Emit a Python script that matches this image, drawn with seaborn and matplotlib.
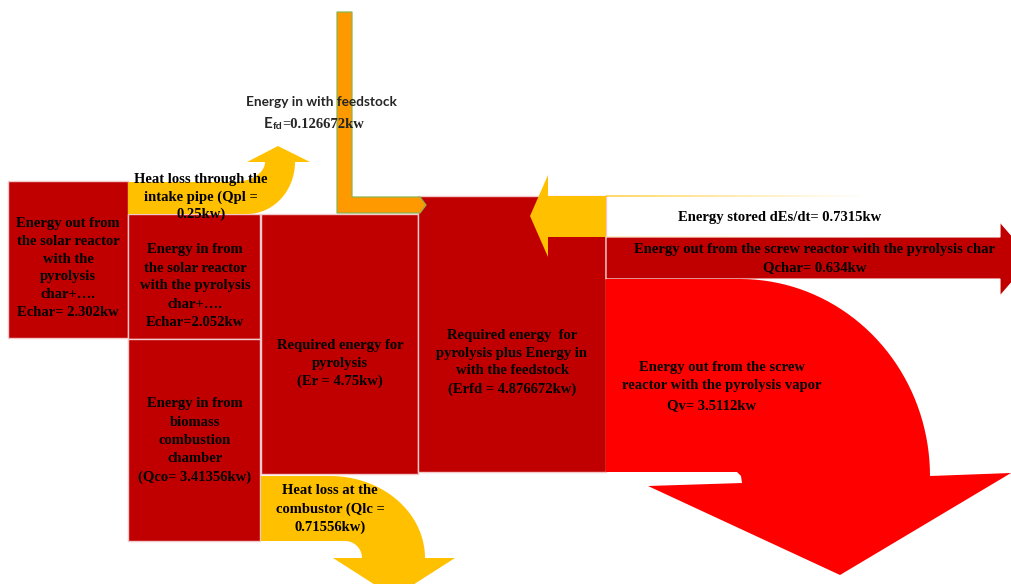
import numpy as np
import matplotlib.pyplot as plt
import seaborn as sns
from matplotlib.patches import Polygon, Rectangle
from matplotlib.collections import LineCollection

sns.set_theme(style="white")
plt.rcParams["font.family"] = ["Liberation Serif", "DejaVu Serif"]

# energy balance of the screw reactor (kW)
box_names = ["Echar", "Echar", "Qco", "Er", "Erfd"]
box_values = [2.302, 2.052, 3.41356, 4.75, 4.876672]
loss_names = ["Qpl", "Qlc"]
loss_values = [0.25, 0.71556]
out_names = ["dEs/dt", "Qchar", "Qv"]
out_values = [0.7315, 0.634, 3.5112]
feed_name = "Efd"
feed_value = 0.126672

DARK = "#C00000"
RED = "#FF0000"
YEL = "#FFC000"
ORG = "#FF9900"
EDGE = "#F3C9C9"
FS = 10.5


def arc(cx, cy, rx, ry, t0, t1, sign=1, n=40):
    t = np.linspace(t0, t1, n)
    return np.column_stack([cx + rx * np.sin(t), cy + sign * ry * np.cos(t)])


def lines_at(ax, x, y0, lines, dy=18, fs=FS):
    for i, s in enumerate(lines):
        ax.text(x, y0 + i * dy, s, ha="center", va="center", fontsize=fs,
                fontweight="bold", color="black", zorder=10)


fig = plt.figure(figsize=(10.11, 5.84), dpi=100)
ax = fig.add_axes([0, 0, 1, 1])
ax.set_xlim(0, 1011)
ax.set_ylim(584, 0)
ax.axis("off")

# boxes (x, y, w, h)
boxes = [(8, 181, 120, 157), (128, 214, 132, 125), (128, 339, 132, 202),
         (261, 214, 157, 260), (418, 196, 188, 276)]
for (x, y, w, h) in boxes:
    ax.add_patch(Rectangle((x, y), w, h, facecolor=DARK, edgecolor=EDGE, lw=1, zorder=2))

# heat loss through the intake pipe (curved up arrow)
pts = [(128, 214), (247, 214)]
pts += list(arc(247, 162, 48, 52, 0, np.pi / 2))
pts += [(310, 162), (278, 146), (247, 162)]
pts += list(arc(233, 162, 32, 20, np.pi / 2, 0))
pts += [(128, 182)]
ax.add_patch(Polygon(pts, closed=True, facecolor=YEL, edgecolor="none", zorder=3))

# heat loss at the combustor (curved down arrow)
pts = [(261, 476), (330, 476)]
pts += list(arc(330, 558, 95, 82, 0, np.pi / 2, sign=-1))
pts += [(455, 558), (394, 597), (333, 558)]
pts += list(arc(345, 558, 17, 17, np.pi / 2, 0, sign=-1))
pts += [(261, 541)]
ax.add_patch(Polygon(pts, closed=True, facecolor=YEL, edgecolor="none", zorder=3))

# energy stored (left arrow)
pts = [(606, 196), (548, 196), (548, 175), (530, 216), (548, 257), (548, 237), (606, 237)]
ax.add_patch(Polygon(pts, closed=True, facecolor=YEL, edgecolor="none", zorder=3))
xs = np.linspace(606, 860, 40)
for yy in (196, 237):
    segs = [[(xs[i], yy), (xs[i + 1], yy)] for i in range(len(xs) - 1)]
    cols = [(1.0, 0.75, 0.0, 0.7 * (1 - i / len(segs))) for i in range(len(segs))]
    ax.add_collection(LineCollection(segs, colors=cols, lw=1.2, zorder=3))

# char out (right arrow)
pts = [(606, 237), (1000, 237), (1000, 222), (1032, 259), (1000, 296), (1000, 279), (606, 279)]
ax.add_patch(Polygon(pts, closed=True, facecolor=DARK, edgecolor="white", lw=0.8, zorder=3))

# vapor out (big curved arrow)
pts = [(606, 279), (740, 279)]
pts += list(arc(740, 476, 190, 197, 0, np.pi / 2, sign=-1))
pts += [(1011, 473), (840, 575), (648, 486), (742, 483), (741, 476), (737, 472), (606, 472)]
ax.add_patch(Polygon(pts, closed=True, facecolor=RED, edgecolor="none", zorder=3))

# feedstock (orange L arrow)
pts = [(337, 12), (352, 12), (352, 197), (420, 197), (426, 205), (420, 213), (337, 213)]
ax.add_patch(Polygon(pts, closed=True, facecolor=ORG, edgecolor="#8DB34E", lw=0.9, zorder=4))

# texts
lines_at(ax, 68, 224, ["Energy out from", "the solar reactor", "with the", "pyrolysis",
                       "char+….", f"{box_names[0]}= {box_values[0]}kw"], dy=17.6)
lines_at(ax, 195, 250, ["Energy in from", "the solar reactor", "with the pyrolysis",
                        "char+….", f"{box_names[1]}={box_values[1]}kw"], dy=18)
lines_at(ax, 195, 404, ["Energy in from", "biomass", "combustion", "chamber",
                        f"({box_names[2]}= {box_values[2]}kw)"], dy=18.2)
lines_at(ax, 340, 345, ["Required energy for", "pyrolysis",
                        f"({box_names[3]} = {box_values[3]}kw)"], dy=18)
lines_at(ax, 512, 335, ["Required energy  for", "pyrolysis plus Energy in", "with the feedstock",
                        f"({box_names[4]} = {box_values[4]}kw)"], dy=18)
lines_at(ax, 201, 180, ["Heat loss through the", f"intake pipe ({loss_names[0]} =",
                        f"{loss_values[0]}kw)"], dy=17)
lines_at(ax, 330, 491, ["Heat loss at the", f"combustor ({loss_names[1]} =",
                        f"{loss_values[1]}kw)"], dy=18)
lines_at(ax, 780, 218, [f"Energy stored {out_names[0]}= {out_values[0]}kw"])
lines_at(ax, 815, 250, ["Energy out from the screw reactor with the pyrolysis char",
                        f"{out_names[1]}= {out_values[1]}kw"], dy=18)
lines_at(ax, 722, 368, ["Energy out from the screw", "reactor with the pyrolysis vapor"], dy=18)
lines_at(ax, 712, 406, [f"{out_names[2]}= {out_values[2]}kw"])

ax.text(321, 102, "Energy in with feedstock", ha="center", va="center", fontsize=9.8,
        fontweight="bold", family=["Lato", "DejaVu Sans"], zorder=10)
t1 = ax.text(264, 128, feed_name[0], ha="left", va="baseline", fontsize=11,
             fontweight="bold", family=["Lato", "DejaVu Sans"], zorder=10)
t2 = ax.annotate(feed_name[1:], xy=(1, 0), xycoords=t1, ha="left", va="bottom",
                 fontsize=7.5, fontweight="bold", family=["Lato", "DejaVu Sans"], zorder=10)
ax.annotate(f"={feed_value}kw", xy=(1, 0), xycoords=t2, ha="left", va="bottom",
            fontsize=FS, fontweight="bold", zorder=10)

fig.savefig("out.png", dpi=100)
